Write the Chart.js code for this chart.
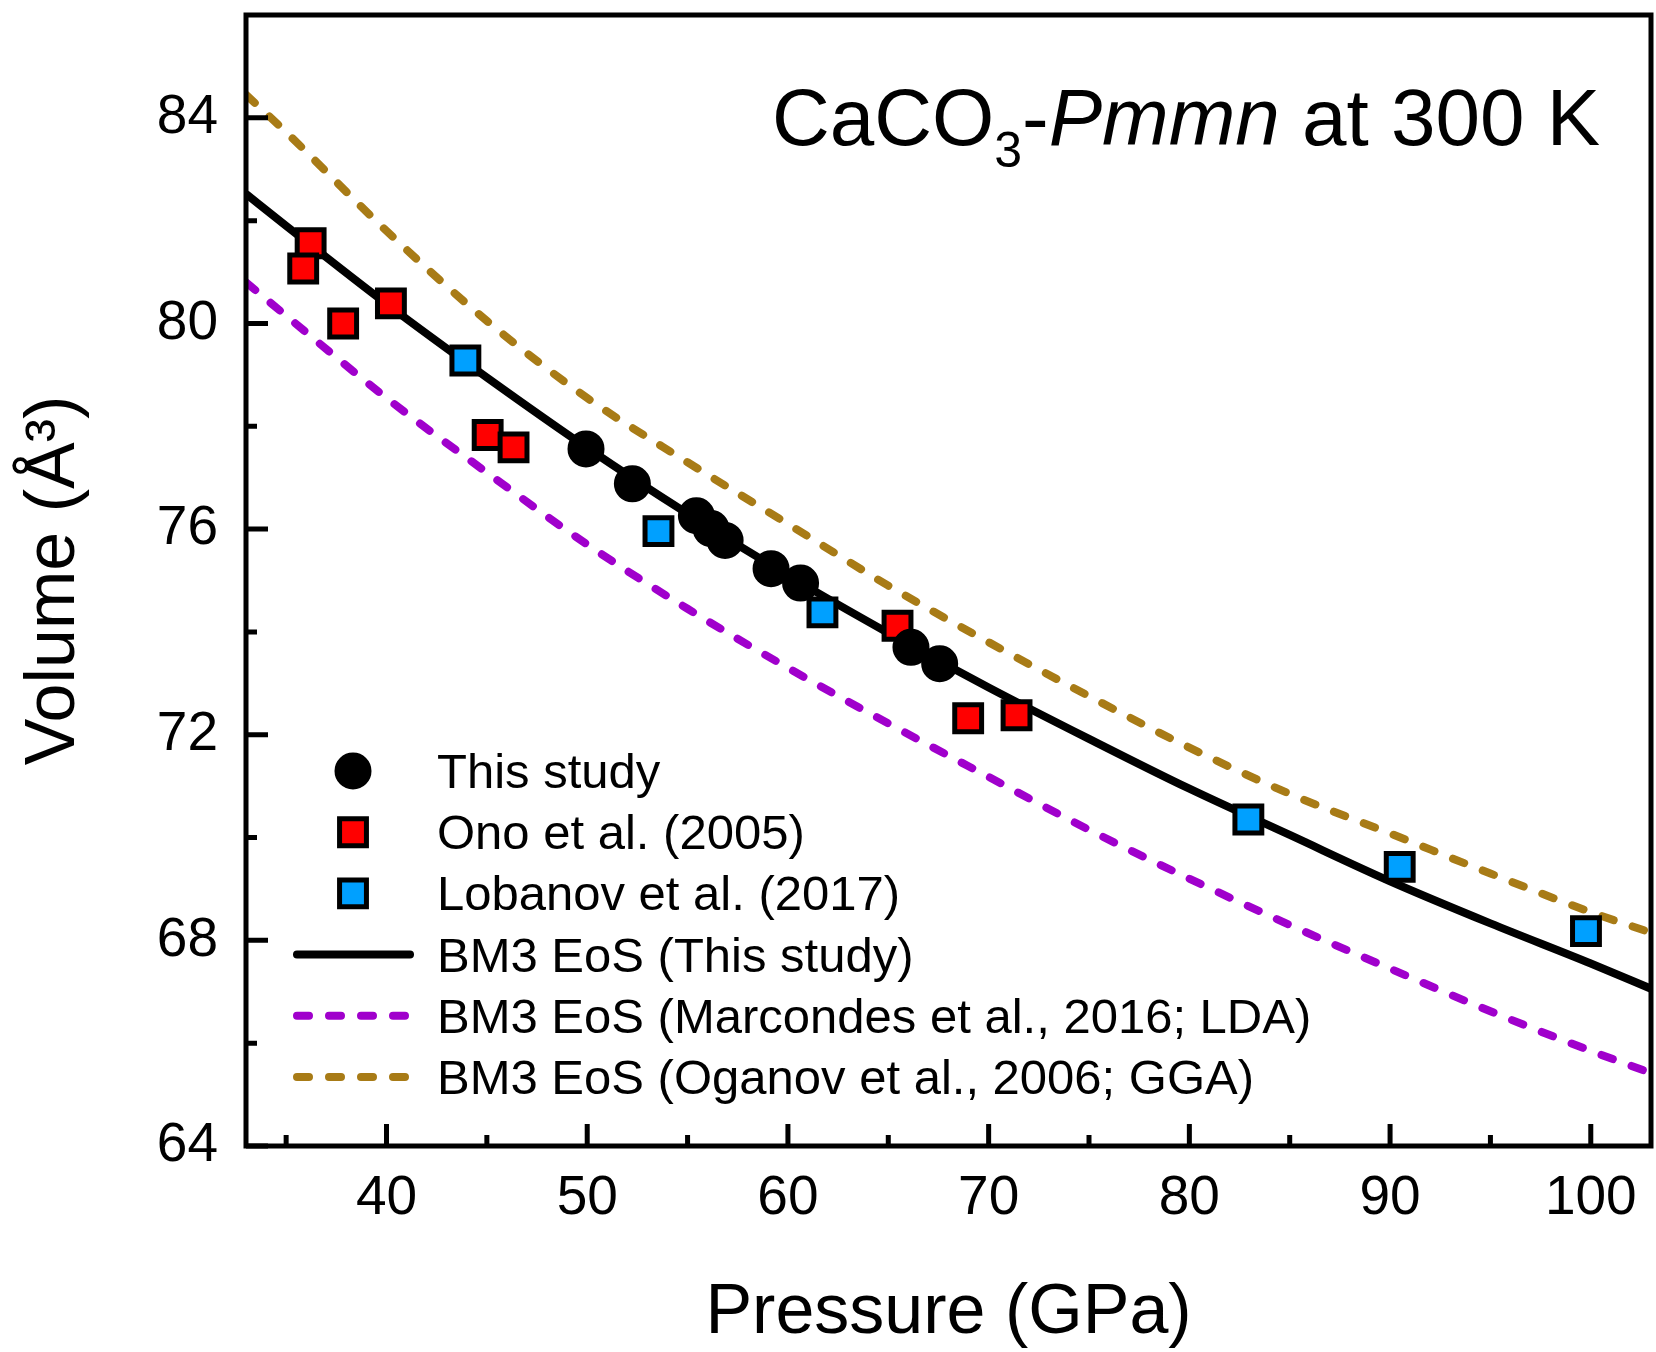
<!DOCTYPE html>
<html>
<head>
<meta charset="utf-8">
<script src="https://cdn.jsdelivr.net/npm/chart.js@4.4.1/dist/chart.umd.min.js"></script>
<style>
  html, body { margin: 0; padding: 0; background: #fff; }
  #wrap { width: 1656px; height: 1352px; }
</style>
</head>
<body>
<div id="wrap"><canvas id="eosChart" width="1656" height="1352"></canvas></div>
<script>
// ------------------- Data -------------------//
var thisStudyP = [49.94, 52.25, 55.44, 56.17, 56.87, 59.16, 60.63, 66.13, 67.56];
var thisStudyV = [77.56, 76.88, 76.26, 76.01, 75.78, 75.23, 74.95, 73.70, 73.38];

var onoP = [36.22, 35.85, 37.84, 40.22, 45.04, 46.33, 65.46, 68.98, 71.39];
var onoV = [81.56, 81.07, 80.00, 80.39, 77.83, 77.59, 74.12, 72.32, 72.38];

var lobanovP = [43.93, 53.55, 61.72, 82.94, 90.48, 99.76];
var lobanovV = [79.28, 75.96, 74.38, 70.35, 69.43, 68.18];

// BM3 EoS curves
var curveP   = [33, 35, 40, 45, 50, 55, 60, 65, 70, 75, 80, 85, 90, 95, 100, 103];
var bm3ThisV = [82.52, 81.90, 80.38, 78.95, 77.58, 76.30, 75.10, 73.98, 72.92, 71.92, 70.95, 70.05, 69.15, 68.33, 67.55, 67.06];
var bm3LdaV  = [80.80, 80.15, 78.55, 77.10, 75.70, 74.45, 73.30, 72.22, 71.18, 70.15, 69.20, 68.30, 67.45, 66.62, 65.85, 65.42];
var bm3GgaV  = [84.45, 83.72, 81.80, 80.05, 78.55, 77.30, 76.10, 74.90, 73.80, 72.75, 71.75, 70.85, 70.08, 69.30, 68.55, 68.15];

var xTicks = [40, 50, 60, 70, 80, 90, 100];
var xMinorTicks = [35, 45, 55, 65, 75, 85, 95];
var yTicks = [64, 68, 72, 76, 80, 84];
var yMinorTicks = [66, 70, 74, 78, 82];

var FONT = "'Liberation Sans', Arial, Helvetica, sans-serif";

function pts( xs, ys ) {
  return xs.map(function( x, i ) { return { x: x, y: ys[i] }; });
}

// ------------------- Plugins -------------------//
// frame + inward ticks
var framePlugin = {
  id: 'frame',
  afterDatasetsDraw: function( chart ) {
    var ctx = chart.ctx, a = chart.chartArea;
    var xs = chart.scales.x, ys = chart.scales.y;
    ctx.save();
    ctx.strokeStyle = '#000';
    ctx.lineWidth = 5;
    ctx.lineCap = 'butt';
    ctx.beginPath();
    xTicks.forEach(function( v ) {
      var px = xs.getPixelForValue( v );
      ctx.moveTo( px, a.bottom ); ctx.lineTo( px, a.bottom - 22 );
    });
    xMinorTicks.forEach(function( v ) {
      var px = xs.getPixelForValue( v );
      ctx.moveTo( px, a.bottom ); ctx.lineTo( px, a.bottom - 11 );
    });
    yTicks.forEach(function( v ) {
      var py = ys.getPixelForValue( v );
      ctx.moveTo( a.left, py ); ctx.lineTo( a.left + 22, py );
    });
    yMinorTicks.forEach(function( v ) {
      var py = ys.getPixelForValue( v );
      ctx.moveTo( a.left, py ); ctx.lineTo( a.left + 11, py );
    });
    ctx.stroke();
    ctx.lineJoin = 'miter';
    ctx.strokeRect( a.left, a.top, a.right - a.left, a.bottom - a.top );
    ctx.restore();
  }
};

// legend inside the plot, bottom left
var legendPlugin = {
  id: 'innerLegend',
  afterDraw: function( chart ) {
    var ctx = chart.ctx;
    var mx = 353, tx = 437, y0 = 771, dy = 61.2;
    ctx.save();
    ctx.font = '49px ' + FONT;
    ctx.textBaseline = 'alphabetic';
    chart.data.datasets.forEach(function( ds, i ) {
      var y = y0 + i * dy;
      if ( ds.showLine ) {
        ctx.beginPath();
        ctx.strokeStyle = ds.borderColor;
        ctx.lineWidth = ds.borderWidth;
        ctx.lineCap = 'round';
        ctx.setLineDash( ds.borderDash || [] );
        ctx.moveTo( 297, y );
        ctx.lineTo( 410, y );
        ctx.stroke();
        ctx.setLineDash( [] );
      } else {
        ctx.fillStyle = ds.backgroundColor;
        ctx.strokeStyle = ds.borderColor;
        ctx.lineWidth = ds.pointBorderWidth;
        ctx.beginPath();
        if ( ds.pointStyle === 'circle' ) {
          ctx.arc( mx, y, ds.pointRadius, 0, Math.PI * 2 );
        } else {
          var s = Math.SQRT1_2 * ds.pointRadius;
          ctx.rect( mx - s, y - s, 2 * s, 2 * s );
        }
        ctx.fill();
        ctx.stroke();
      }
      ctx.fillStyle = '#000';
      ctx.fillText( ds.label, tx, y + 17 );
    });
    ctx.restore();
  }
};

// "CaCO3-Pmmn at 300 K"
var titlePlugin = {
  id: 'phaseTitle',
  afterDraw: function( chart ) {
    var ctx = chart.ctx;
    var parts = [
      { t: 'CaCO', f: '80px ' + FONT, dy: 0 },
      { t: '3', f: '50px ' + FONT, dy: 22 },
      { t: '-', f: '80px ' + FONT, dy: 0 },
      { t: 'Pmmn', f: 'italic 80px ' + FONT, dy: 0 },
      { t: ' at 300 K', f: '80px ' + FONT, dy: 0 }
    ];
    ctx.save();
    ctx.fillStyle = '#000';
    ctx.textBaseline = 'alphabetic';
    var w = 0;
    parts.forEach(function( p ) { ctx.font = p.f; w += ctx.measureText( p.t ).width; });
    var x = 1600 - w, base = 145;
    parts.forEach(function( p ) {
      ctx.font = p.f;
      ctx.fillText( p.t, x, base + p.dy );
      x += ctx.measureText( p.t ).width;
    });
    ctx.restore();
  }
};

// ------------------- Chart -------------------//
var ctx = document.getElementById('eosChart');
var eosChart = new Chart(ctx, {
  type: 'scatter',
  data: {
    datasets: [
      {
        label: 'This study',
        data: pts( thisStudyP, thisStudyV ),
        pointStyle: 'circle',
        pointRadius: 17,
        pointBorderWidth: 3,
        backgroundColor: '#000000',
        borderColor: '#000000'
      },
      {
        label: 'Ono et al. (2005)',
        data: pts( onoP, onoV ),
        pointStyle: 'rect',
        pointRadius: 19,
        pointBorderWidth: 5,
        backgroundColor: '#ff0000',
        borderColor: '#000000'
      },
      {
        label: 'Lobanov et al. (2017)',
        data: pts( lobanovP, lobanovV ),
        pointStyle: 'rect',
        pointRadius: 19,
        pointBorderWidth: 5,
        backgroundColor: '#00a0ff',
        borderColor: '#000000'
      },
      {
        label: 'BM3 EoS (This study)',
        data: pts( curveP, bm3ThisV ),
        showLine: true,
        pointRadius: 0,
        borderColor: '#000000',
        borderWidth: 8,
        cubicInterpolationMode: 'monotone'
      },
      {
        label: 'BM3 EoS (Marcondes et al., 2016; LDA)',
        data: pts( curveP, bm3LdaV ),
        showLine: true,
        pointRadius: 0,
        borderColor: '#a000cc',
        borderWidth: 8,
        borderDash: [12, 20],
        borderCapStyle: 'round',
        cubicInterpolationMode: 'monotone'
      },
      {
        label: 'BM3 EoS (Oganov et al., 2006; GGA)',
        data: pts( curveP, bm3GgaV ),
        showLine: true,
        pointRadius: 0,
        borderColor: '#a87b16',
        borderWidth: 8,
        borderDash: [12, 20],
        borderCapStyle: 'round',
        cubicInterpolationMode: 'monotone'
      }
    ]
  },
  options: {
    responsive: false,
    animation: false,
    devicePixelRatio: 1,
    layout: { autoPadding: false, padding: { left: 0, right: 5, top: 15, bottom: 0 } },
    plugins: {
      legend: { display: false },
      tooltip: { enabled: false }
    },
    scales: {
      x: {
        type: 'linear',
        min: 33,
        max: 103,
        afterFit: function( s ) {
          s.height = 206;
          s.paddingLeft = 0; s.paddingRight = 0;
        },
        afterBuildTicks: function( s ) { s.ticks = xTicks.map(function( v ) { return { value: v }; }); },
        grid: { display: false, drawTicks: false },
        border: { display: false },
        ticks: {
          color: '#000',
          font: { family: FONT, size: 55 },
          padding: 20,
          maxRotation: 0,
          autoSkip: false
        },
        title: {
          display: true,
          text: 'Pressure (GPa)',
          color: '#000',
          font: { family: FONT, size: 70, lineHeight: 1.0 },
          padding: { top: 0, bottom: 3 }
        }
      },
      y: {
        type: 'linear',
        min: 64,
        max: 86,
        afterFit: function( s ) {
          s.width = 246;
          s.paddingTop = 0; s.paddingBottom = 0;
        },
        afterBuildTicks: function( s ) { s.ticks = yTicks.map(function( v ) { return { value: v }; }); },
        grid: { display: false, drawTicks: false },
        border: { display: false },
        ticks: {
          color: '#000',
          font: { family: FONT, size: 55 },
          padding: 28
        },
        title: {
          display: true,
          text: 'Volume (Å³)',
          color: '#000',
          font: { family: FONT, size: 70, lineHeight: 1.2 },
          padding: { top: 13, bottom: 0 }
        }
      }
    }
  },
  plugins: [ framePlugin, legendPlugin, titlePlugin ]
});
</script>
</body>
</html>
